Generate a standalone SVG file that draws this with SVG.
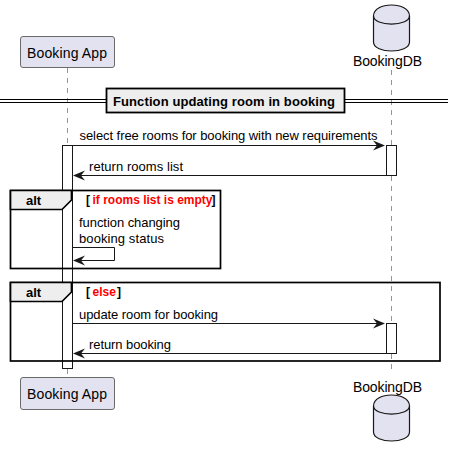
<svg xmlns="http://www.w3.org/2000/svg" width="455" height="457" viewBox="0 0 455 457">
<defs>
<style>
text{font-family:"Liberation Sans",Arial,sans-serif;font-size:13px;fill:#000}
.p{font-size:14px}
.b{font-weight:bold}
.r{fill:#f00;font-weight:bold;font-size:12px}
.k{font-weight:bold;font-size:12px}
.box{fill:#e2e2f0;stroke:#5a5a5a;stroke-width:.9}
.cyl{fill:#e2e2f0;stroke:#181818;stroke-width:1.2}
.life{stroke:#7a7a7a;stroke-width:.8;stroke-dasharray:5 5;fill:none}
.act{fill:#fff;stroke:#181818;stroke-width:1}
.msg{stroke:#181818;stroke-width:1;fill:none}
.frame{fill:none;stroke:#000;stroke-width:1.700}
.tab{fill:#eee;stroke:#000;stroke-width:1.700}
.ah{fill:#181818}
</style>
<path id="ar" class="ah" d="M0 0L-12-5L-8 0L-12 5Z"/>
<path id="al" class="ah" d="M0 0L12-5L8 0L12 5Z"/>
<g id="db"><path class="cyl" d="M373.500 16C373.500 1.300 409.500 1.300 409.500 16V42C409.500 54 373.500 54 373.500 42Z"/><path class="cyl" d="M373.500 16C373.500 26.700 409.500 26.700 409.500 16" style="fill:none"/></g>
</defs>
<rect width="455" height="457" fill="#fff"/>
<g id="lifelines">
<path class="life" d="M67.500 68V145M67.500 369V376"/>
<path class="life" d="M391.500 70V145M391.500 176V323M391.500 354V374"/>
</g>
<g id="activations">
<rect class="act" x="62.500" y="145.500" width="10" height="223"/>
<rect class="act" x="386.500" y="145.500" width="10" height="30"/>
<rect class="act" x="386.500" y="323.500" width="10" height="30"/>
</g>
<g id="divider">
<path d="M0 99.500H106M0 102.500H106M344 99.500H448M344 102.500H448" stroke="#000" stroke-width="1" fill="none"/>
<rect x="106.500" y="88.500" width="238" height="24" fill="#eee" stroke="#000" stroke-width="1.800"/>
<text class="b" x="113" y="106" textLength="222" lengthAdjust="spacing">Function updating room in booking</text>
</g>
<g id="frame-alt-1">
<rect class="frame" x="10.500" y="190.500" width="210" height="78"/>
<path class="tab" d="M10.500 190.500H71.500V200L62 209.500H10.500Z"/>
<text class="b" x="26" y="205">alt</text>
<text class="k" x="86" y="204">[</text><text class="r" x="92.500" y="204">if rooms list is empty</text><text class="k" x="211.500" y="204">]</text>
</g>
<g id="frame-alt-2">
<rect class="frame" x="10.500" y="282.500" width="429.500" height="78.500"/>
<path class="tab" d="M10.500 282.500H71.500V292L62 301.500H10.500Z"/>
<text class="b" x="26" y="297">alt</text>
<text class="k" x="86" y="296">[</text><text class="r" x="92.500" y="296">else</text><text class="k" x="117" y="296">]</text>
</g>
<g id="connectors">
<path class="msg" d="M72.500 145.500H384"/><use href="#ar" x="385" y="145.500"/>
<path class="msg" d="M386.500 175.500H74"/><use href="#al" x="73" y="175.500"/>
<path class="msg" d="M72.500 247.500H114.500V260.500H74"/><use href="#al" x="73" y="260.500"/>
<path class="msg" d="M72.500 323.500H384"/><use href="#ar" x="385" y="323.500"/>
<path class="msg" d="M386.500 353.500H74"/><use href="#al" x="73" y="353.500"/>
</g>
<g id="labels">
<text x="79.500" y="140" textLength="298">select free rooms for booking with new requirements</text>
<text x="89" y="171" textLength="94">return rooms list</text>
<text x="79" y="227" textLength="101">function changing</text>
<text x="79" y="243" textLength="85">booking status</text>
<text x="79" y="319" textLength="139">update room for booking</text>
<text x="89" y="349" textLength="82">return booking</text>
</g>
<g id="node-booking-app-top"><rect class="box" x="20.500" y="36.500" width="94" height="31" rx="2.500"/><text class="p" x="27" y="58" textLength="80">Booking App</text></g>
<g id="node-booking-app-bottom"><rect class="box" x="20.500" y="377.500" width="94" height="32" rx="2.500"/><text class="p" x="27" y="399" textLength="80">Booking App</text></g>
<g id="node-bookingdb-top"><use href="#db"/><text class="p" x="353" y="66" textLength="69">BookingDB</text></g>
<g id="node-bookingdb-bottom"><use href="#db" y="390"/><text class="p" x="353" y="392" textLength="69">BookingDB</text></g>
</svg>
